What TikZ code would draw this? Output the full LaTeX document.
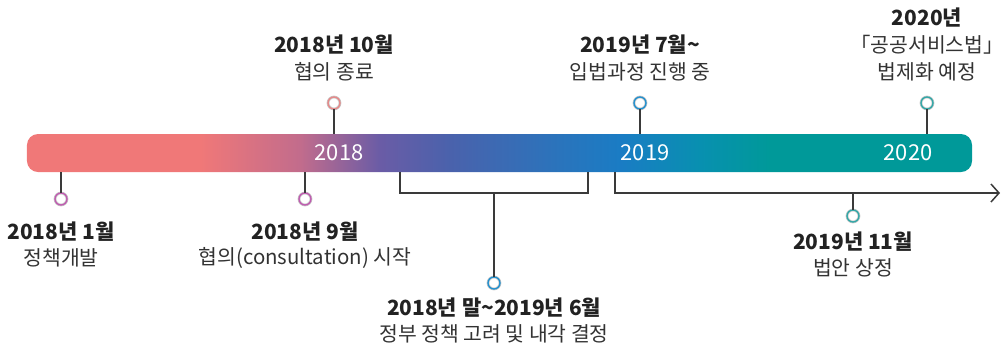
\documentclass[tikz,border=0pt]{standalone}
\usepackage{fontspec}
\newfontfamily\kr{Noto Sans CJK KR}
\usetikzlibrary{arrows.meta}
\definecolor{txd}{HTML}{222222}
\definecolor{txr}{HTML}{333333}
\definecolor{ln}{HTML}{3A3A3A}
\definecolor{cA}{HTML}{F07878}
\definecolor{cB}{HTML}{C26C8C}
\definecolor{cC}{HTML}{6A5CA6}
\definecolor{cD}{HTML}{4A62AC}
\definecolor{cE}{HTML}{2A74BC}
\definecolor{cF}{HTML}{1A7CC4}
\definecolor{cG}{HTML}{0890B0}
\definecolor{cH}{HTML}{009999}
\definecolor{mkP}{HTML}{C05AB0}
\definecolor{mkR}{HTML}{E88888}
\definecolor{mkB}{HTML}{2090D0}
\definecolor{mkT}{HTML}{30A8A8}
\pgfdeclarehorizontalshading{tl}{100bp}{color(0bp)=(cA); color(34.15bp)=(cA); color(39.44bp)=(cB); color(43.68bp)=(cC); color(47.38bp)=(cD); color(53.2bp)=(cE); color(56.38bp)=(cF); color(60.61bp)=(cG); color(64.31bp)=(cH); color(100bp)=(cH)}
\tikzset{
  hd/.style={font=\kr\bfseries\fontsize{21}{24}\selectfont, text=txd, inner sep=0},
  sb/.style={font=\kr\fontsize{20.5}{24}\selectfont, text=txr, inner sep=0},
  yr/.style={font=\kr\fontsize{22}{24}\selectfont, text=white, inner sep=0},
  mk/.style={circle, minimum size=12bp, inner sep=0, fill=white, draw=black!22, double=#1, double distance=1.3bp, line width=0.7bp},
  cn/.style={draw=ln, line width=1.2bp},
}
\begin{document}
\begin{tikzpicture}[x=1bp,y=-1bp]
\useasboundingbox (0,0) rectangle (1002,347);
\node[shading=tl, rounded corners=11bp, minimum width=945bp, minimum height=38bp, inner sep=0, draw=none] (bar) at (499.5,153) {};
\node[yr] (y18) at (339,153) {2018};
\node[yr] (y19) at (645,153) {2019};
\node[yr] (y20) at (908,153) {2020};
% markers
\node[mk=mkP] (m1) at (61,199) {};
\node[mk=mkP] (m2) at (305,199) {};
\node[mk=mkR] (m3) at (334,103) {};
\node[mk=mkB] (m4) at (494,283) {};
\node[mk=mkB] (m5) at (640,103) {};
\node[mk=mkT] (m6) at (853,216) {};
\node[mk=mkT] (m7) at (927,103) {};
% stems
\draw[cn] (m1) -- (m1 |- bar.south);
\draw[cn] (m2) -- (m2 |- bar.south);
\draw[cn] (m3) -- (m3 |- bar.north);
\draw[cn] (m5) -- (m5 |- bar.north);
\draw[cn] (m7) -- (m7 |- bar.north);
% bracket
\coordinate (bl) at (400,193);
\coordinate (br) at (588,193);
\draw[cn] (bl |- bar.south) -- (bl) -- (br) -- (br |- bar.south);
\draw[cn] (m4 |- bl) -- (m4);
% arrow
\coordinate (al) at (615,193);
\coordinate (ae) at (1000,193);
\draw[cn, -{Straight Barb[length=8bp,width=18bp,line width=1.5bp]}] (al |- bar.south) -- (al) -- (ae);
\draw[cn] (m6 |- al) -- (m6);
% labels
\node[hd] (t1) at (61,232) {2018년 1월};
\node[sb] (s1) at (61,258) {정책개발};
\node[hd] (t2) at (305,232) {2018년 9월};
\node[sb] (s2) at (305,258) {협의(consultation) 시작};
\node[hd] (t3) at (334,45) {2018년 10월};
\node[sb] (s3) at (334,72) {협의 종료};
\node[hd] (t4) at (494,308) {2018년 말\textasciitilde 2019년 6월};
\node[sb] (s4) at (494,334) {정부 정책 고려 및 내각 결정};
\node[hd] (t5) at (640,45) {2019년 7월\textasciitilde};
\node[sb] (s5) at (640,72) {입법과정 진행 중};
\node[hd] (t6) at (853,242) {2019년 11월};
\node[sb] (s6) at (853,268) {법안 상정};
\node[hd] (t7) at (927,18) {2020년};
\node[sb] (s7) at (927,45) {「공공서비스법」};
\node[sb] (s8) at (927,72) {법제화 예정};
\end{tikzpicture}
\end{document}
